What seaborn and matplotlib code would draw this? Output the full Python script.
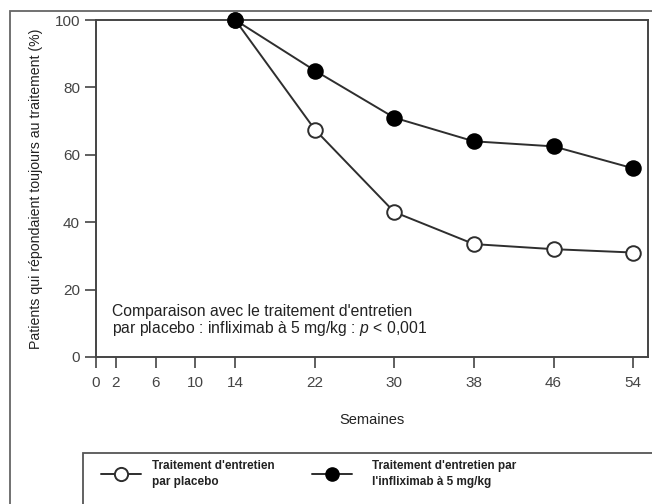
import pandas as pd
import seaborn as sns
import matplotlib.pyplot as plt
from matplotlib.lines import Line2D
from matplotlib.patches import Rectangle

# Données
semaines = [14, 22, 30, 38, 46, 54]
placebo = [100, 67.5, 43, 33.5, 32, 31]
infliximab = [100, 85, 71, 64, 62.5, 56]
ticks_x = [0, 2, 6, 10, 14, 22, 30, 38, 46, 54]
ticks_y = [0, 20, 40, 60, 80, 100]
lbl_placebo = "Traitement d'entretien\npar placebo"
lbl_inflix = "Traitement d'entretien par\nl'infliximab à 5 mg/kg"

df = pd.DataFrame({"semaine": semaines + semaines,
                   "pct": placebo + infliximab,
                   "groupe": ["placebo"] * 6 + ["infliximab"] * 6})

sns.set_theme(style="ticks")
plt.rcParams["font.family"] = ["Liberation Sans", "DejaVu Sans"]
plt.rcParams["mathtext.fontset"] = "custom"
plt.rcParams["mathtext.it"] = "Liberation Sans:italic"
plt.rcParams["mathtext.rm"] = "Liberation Sans"

dark = "#2e2e2e"
fig = plt.figure(figsize=(6.52, 5.04), dpi=100)
ax = fig.add_axes([96 / 652, 1 - 357 / 504, (648 - 96) / 652, (357 - 20) / 504])

sns.lineplot(data=df[df.groupe == "placebo"], x="semaine", y="pct", ax=ax,
             color=dark, lw=1.4, marker="o", ms=10.5, mfc="white", mec=dark, mew=1.4,
             clip_on=False, zorder=3)
sns.lineplot(data=df[df.groupe == "infliximab"], x="semaine", y="pct", ax=ax,
             color=dark, lw=1.4, marker="o", ms=10.5, mfc="black", mec="black", mew=1.4,
             clip_on=False, zorder=4)

ax.set_xlim(0, 55.5)
ax.set_ylim(0, 100)
ax.set_xticks(ticks_x)
ax.set_yticks(ticks_y)
ax.tick_params(axis="both", direction="out", length=8, width=1.2, colors="#444444",
               labelsize=11, labelcolor="#444444")
ax.tick_params(axis="x", pad=6)
for s in ax.spines.values():
    s.set_visible(True)
    s.set_color("#444444")
    s.set_linewidth(1.4)

ax.set_xlabel("Semaines", fontsize=10.5, color="#222222", labelpad=16)
ax.set_ylabel("Patients qui répondaient toujours au traitement (%)", fontsize=10.2,
              color="#222222", labelpad=8)

ax.text(1.6, 10.8, "Comparaison avec le traitement d'entretien\n"
        "par placebo : infliximab à 5 mg/kg : $p$ < 0,001",
        fontsize=11.3, color="#222222", va="center", linespacing=1.0)

# cadre extérieur et cadre de légende
fig.add_artist(Rectangle((10 / 652, -0.1), 1.2, 1.1 - 11 / 504, transform=fig.transFigure,
                         fill=False, ec="#666666", lw=1.3))
fig.add_artist(Rectangle((83 / 652, -0.1), 1.2, 0.1 + 1 - 453 / 504, transform=fig.transFigure,
                         fill=False, ec="#555555", lw=1.3))

h1 = Line2D([], [], color=dark, lw=1.4, marker="o", ms=9.5, mfc="white", mec=dark, mew=1.4)
h2 = Line2D([], [], color=dark, lw=1.4, marker="o", ms=9.5, mfc="black", mec="black")
leg1 = fig.legend([h1], [lbl_placebo], loc="center left", bbox_to_anchor=(95 / 652, 1 - 474 / 504),
                  frameon=False, borderpad=0, handlelength=3.4, handletextpad=0.9,
                  prop={"size": 8.5, "weight": "bold"})
leg2 = fig.legend([h2], [lbl_inflix], loc="center left", bbox_to_anchor=(306 / 652, 1 - 474 / 504),
                  frameon=False, borderpad=0, handlelength=3.4, handletextpad=1.7,
                  prop={"size": 8.5, "weight": "bold"})
for lg in (leg1, leg2):
    for t in lg.get_texts():
        t.set_linespacing(1.45)
        t.set_color("#222222")

fig.savefig("out.png", dpi=100)
